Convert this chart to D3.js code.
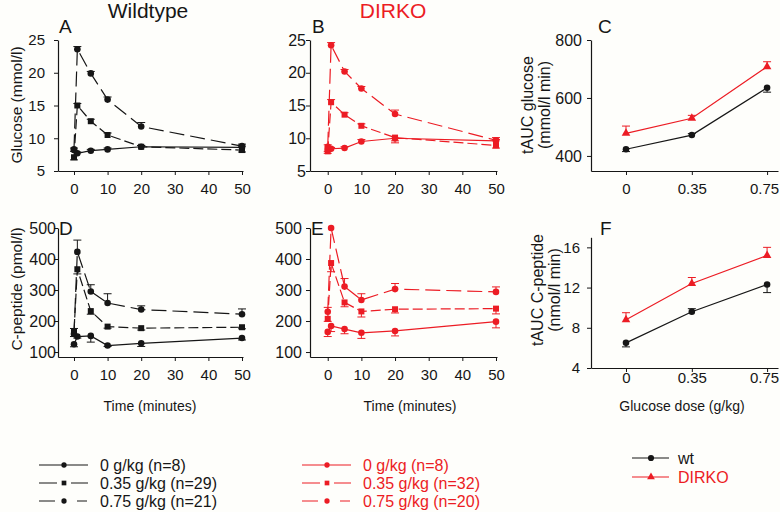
<!DOCTYPE html>
<html><head><meta charset="utf-8">
<script src="https://cdn.jsdelivr.net/npm/d3@7"></script>
<style>
body{margin:0;background:#fefefb;}
svg{display:block;font-family:"Liberation Sans",Arial,sans-serif;}
</style></head><body>
<svg id="c" width="780" height="512"></svg>
<script>
// ---------------- data ----------------
const times = [0, 1, 5, 10, 20, 50];
const timeTicks = [0, 10, 20, 30, 40, 50];
const doses = [0, 0.35, 0.75];
const doseTickLabels = ["0", "0.35", "0.75"];
const glucoseTicks = [5, 10, 15, 20, 25];
const cpepTicks = [100, 200, 300, 400, 500];
const aucGlucoseTicks = [400, 600, 800];
const aucCpepTicks = [4, 8, 12, 16];

// Panel A: wildtype glucose (mmol/l)
const wtGlucose0   = [8.2, 7.7, 8.1, 8.3, 8.7, 8.6];
const wtGlucose035 = [7.1, 15.0, 12.6, 10.5, 8.7, 8.2];
const wtGlucose075 = [8.3, 23.6, 19.9, 15.9, 11.8, 8.8];
const wtGlucoseErr0   = [0.3, 0.2, 0.2, 0.2, 0.2, 0.2];
const wtGlucoseErr035 = [-0.4, 0.3, 0.3, 0.3, 0.2, -0.3];
const wtGlucoseErr075 = [-0.3, 0.4, 0.3, 0.4, 0.6, 0.3];

// Panel B: DIRKO glucose (mmol/l)
const koGlucose0   = [8.3, 8.4, 8.5, 9.5, 10.0, 9.6];
const koGlucose035 = [8.0, 15.5, 13.6, 11.9, 10.1, 8.9];
const koGlucose075 = [8.7, 24.2, 20.2, 17.6, 13.7, 9.7];
const koGlucoseErr0   = [-0.3, 0.2, 0.2, 0.3, -0.7, 0.2];
const koGlucoseErr035 = [-0.3, 0.4, 0.3, 0.3, -0.5, -0.4];
const koGlucoseErr075 = [0.3, 0.4, 0.3, 0.3, 0.6, 0.4];

// Panel D: wildtype C-peptide (pmol/l)
const wtCpep0   = [125, 150, 152, 121, 128, 145];
const wtCpep035 = [166, 367, 232, 182, 177, 180];
const wtCpep075 = [158, 423, 295, 258, 237, 222];
const wtCpepErr0   = [-8, -5, -20, -3, -10, -6];
const wtCpepErr035 = [10, -15, -10, -5, -6, -5];
const wtCpepErr075 = [-8, 38, 22, 30, 12, 17];

// Panel E: DIRKO C-peptide (pmol/l)
const koCpep0   = [165, 184, 174, 162, 168, 198];
const koCpep035 = [207, 387, 260, 231, 238, 240];
const koCpep075 = [230, 500, 311, 268, 303, 294];
const koCpepErr0   = [-15, -18, -15, -18, -16, -20];
const koCpepErr035 = [-8, -28, -14, -18, -12, -17];
const koCpepErr075 = [14, 0, 26, 20, 18, 16];

// Panel C: tAUC glucose (mmol/l min)
const aucGlucoseWt = [423, 472, 635];
const aucGlucoseKo = [478, 530, 708];
const aucGlucoseWtErr = [-8, 5, -15];
const aucGlucoseKoErr = [25, 10, 17];

// Panel F: tAUC C-peptide (nmol/l min)
const aucCpepWt = [6.5, 9.6, 12.3];
const aucCpepKo = [8.8, 12.4, 15.2];
const aucCpepWtErr = [-0.4, 0.3, -0.8];
const aucCpepKoErr = [0.7, 0.6, 0.8];

const legendDoseLabelsWt = ["0 g/kg (n=8)", "0.35 g/kg (n=29)", "0.75 g/kg (n=21)"];
const legendDoseLabelsKo = ["0 g/kg (n=8)", "0.35 g/kg (n=32)", "0.75 g/kg (n=20)"];
const legendGroupLabels = ["wt", "DIRKO"];

// ---------------- drawing ----------------
const BLACK = "#161616", RED = "#ec1c24", BG = "#fefefb";
const svg = d3.select("#c");
svg.append("rect").attr("width", 780).attr("height", 512).attr("fill", BG);

function panel(cfg) {
  const g = svg.append("g");
  const x = d3.scaleLinear().domain(cfg.xd).range(cfg.xr);
  const y = d3.scaleLinear().domain(cfg.yd).range(cfg.yr);
  const ya = d3.axisLeft(y).tickValues(cfg.yt).tickSizeInner(4).tickSizeOuter(0).tickPadding(cfg.yp);
  const yg = g.append("g").attr("transform", `translate(${cfg.xr[0]},0)`).call(ya);
  yg.selectAll("text").style("font-size", cfg.yfs + "px").attr("fill", BLACK);
  const xa = d3.axisBottom(x).tickValues(cfg.xt).tickSizeInner(4).tickSizeOuter(0).tickPadding(cfg.xp);
  if (cfg.xf) xa.tickFormat(cfg.xf);
  const xg = g.append("g").attr("transform", `translate(0,${cfg.yr[0]})`).call(xa);
  xg.selectAll("text").style("font-size", "15px").attr("fill", BLACK);
  if (cfg.shiftLast) xg.selectAll(".tick:last-of-type text").attr("dx", -3);
  [yg, xg].forEach(a => {
    a.select(".domain").attr("stroke", BLACK).attr("stroke-width", 1.2);
    a.selectAll(".tick line").attr("stroke", BLACK).attr("stroke-width", 1);
    a.attr("font-family", null);
  });
  return { x, y, g };
}

function series(p, xs, vals, errs, color, dash, shape, size) {
  const pts = xs.map((t, i) => ({ t, v: vals[i], e: errs[i] }));
  const line = d3.line().x(d => p.x(d.t)).y(d => p.y(d.v));
  p.g.append("path").datum(pts).attr("d", line).attr("fill", "none")
    .attr("stroke", color).attr("stroke-width", 1.2).attr("stroke-dasharray", dash);
  const eb = p.g.append("g").attr("stroke", color).attr("stroke-width", 1);
  pts.filter(d => d.e !== 0).forEach(d => {
    const cx = p.x(d.t), y0 = p.y(d.v), y1 = p.y(d.v + d.e);
    eb.append("line").attr("x1", cx).attr("x2", cx).attr("y1", y0).attr("y2", y1);
    eb.append("line").attr("x1", cx - 4).attr("x2", cx + 4).attr("y1", y1).attr("y2", y1);
  });
  p.g.append("g").selectAll("path").data(pts).join("path")
    .attr("d", d3.symbol().type(shape).size(size))
    .attr("transform", d => `translate(${p.x(d.t)},${p.y(d.v)})`)
    .attr("fill", color);
}

function text(x, y, s, opts = {}) {
  const t = svg.append("text").attr("x", x).attr("y", y).text(s)
    .attr("fill", opts.fill || BLACK).style("font-size", (opts.fs || 15) + "px")
    .attr("text-anchor", opts.anchor || "start");
  if (opts.rot) t.attr("transform", `rotate(-90,${x},${y})`).attr("dy", "0.35em");
  return t;
}

const DASH0 = null, DASH035 = "10,4", DASH075 = "15,6";
const CIRC = d3.symbolCircle, SQ = d3.symbolSquare, TRI = d3.symbolTriangle;

// Panel A
const pA = panel({ xd: [-4.76, 50.3], xr: [58, 243], yd: [5, 25], yr: [171, 40], yt: glucoseTicks, yp: 9, yfs: 15, xt: timeTicks, xp: 8 });
series(pA, times, wtGlucose0, wtGlucoseErr0, BLACK, DASH0, CIRC, 34);
series(pA, times, wtGlucose035, wtGlucoseErr035, BLACK, DASH035, SQ, 36);
series(pA, times, wtGlucose075, wtGlucoseErr075, BLACK, DASH075, CIRC, 34);

// Panel B
const pB = panel({ xd: [-5.27, 50.3], xr: [310, 497], yd: [5, 25], yr: [171, 40], yt: glucoseTicks, yp: 0, yfs: 16, xt: timeTicks, xp: 8 });
series(pB, times, koGlucose0, koGlucoseErr0, RED, DASH0, CIRC, 34);
series(pB, times, koGlucose035, koGlucoseErr035, RED, DASH035, SQ, 36);
series(pB, times, koGlucose075, koGlucoseErr075, RED, DASH075, CIRC, 34);

// Panel C
const pC = panel({ xd: [-0.186, 0.808], xr: [591, 778], yd: [348, 800], yr: [171, 40], yt: aucGlucoseTicks, yp: 5, yfs: 16, xt: doses, xf: (d, i) => doseTickLabels[i], xp: 8, shiftLast: true });
series(pC, doses, aucGlucoseWt, aucGlucoseWtErr, BLACK, DASH0, CIRC, 34);
series(pC, doses, aucGlucoseKo, aucGlucoseKoErr, RED, DASH0, TRI, 32);

// Panel D
const pD = panel({ xd: [-4.76, 50.3], xr: [58, 243], yd: [84, 500], yr: [357, 228], yt: cpepTicks, yp: -2, yfs: 16, xt: timeTicks, xp: 8 });
series(pD, times, wtCpep0, wtCpepErr0, BLACK, DASH0, CIRC, 34);
series(pD, times, wtCpep035, wtCpepErr035, BLACK, DASH035, SQ, 36);
series(pD, times, wtCpep075, wtCpepErr075, BLACK, DASH075, CIRC, 34);

// Panel E
const pE = panel({ xd: [-5.27, 50.3], xr: [310, 497], yd: [84, 500], yr: [357, 228], yt: cpepTicks, yp: 4, yfs: 16, xt: timeTicks, xp: 8 });
series(pE, times, koCpep0, koCpepErr0, RED, DASH0, CIRC, 34);
series(pE, times, koCpep035, koCpepErr035, RED, DASH035, SQ, 36);
series(pE, times, koCpep075, koCpepErr075, RED, DASH075, CIRC, 34);

// Panel F
const pF = panel({ xd: [-0.186, 0.808], xr: [591, 778], yd: [4, 17], yr: [368, 237.3], yt: aucCpepTicks, yp: 7, yfs: 15, xt: doses, xf: (d, i) => doseTickLabels[i], xp: 0, shiftLast: true });
series(pF, doses, aucCpepWt, aucCpepWtErr, BLACK, DASH0, CIRC, 34);
series(pF, doses, aucCpepKo, aucCpepKoErr, RED, DASH0, TRI, 32);

// titles & letters
text(148, 18, "Wildtype", { fs: 21, anchor: "middle" });
text(393, 18, "DIRKO", { fs: 21, anchor: "middle", fill: RED });
text(59, 33, "A", { fs: 19 });
text(312, 33, "B", { fs: 19 });
text(598, 33, "C", { fs: 19 });
text(59, 235, "D", { fs: 19 });
text(311, 235, "E", { fs: 19 });
text(600, 235, "F", { fs: 19 });

// axis titles
text(17, 105, "Glucose (mmol/l)", { fs: 15.5, anchor: "middle", rot: true });
text(17, 289, "C-peptide (pmol/l)", { fs: 15.5, anchor: "middle", rot: true });
text(527, 105, "tAUC glucose", { fs: 16, anchor: "middle", rot: true });
text(544, 105, "(mmol/l min)", { fs: 16, anchor: "middle", rot: true });
text(537, 290, "tAUC C-peptide", { fs: 16, anchor: "middle", rot: true });
text(554, 290, "(nmol/l min)", { fs: 16, anchor: "middle", rot: true });
text(150, 411, "Time (minutes)", { fs: 14, anchor: "middle" });
text(410, 411, "Time (minutes)", { fs: 14, anchor: "middle" });
text(682, 411, "Glucose dose (g/kg)", { fs: 14, anchor: "middle" });

// legends
const legDash = [null, "18,14", "16,22,10"];
const legShapes = [CIRC, SQ, CIRC];
const legRowsY = [465, 483, 501];
function legendItem(x1, x2, y, color, dash, shape, size, label, tx, fs) {
  svg.append("line").attr("x1", x1).attr("x2", x2).attr("y1", y).attr("y2", y)
    .attr("stroke", color).attr("stroke-width", 1.2).attr("stroke-dasharray", dash);
  svg.append("path").attr("d", d3.symbol().type(shape).size(size)())
    .attr("transform", `translate(${(x1 + x2) / 2 + 0.5},${y})`).attr("fill", color);
  text(tx, y, label, { fs: fs, fill: color }).attr("dy", "0.35em");
}
legendDoseLabelsWt.forEach((l, i) => legendItem(39, 88, legRowsY[i], BLACK, legDash[i], legShapes[i], 22, l, 100, 16));
legendDoseLabelsKo.forEach((l, i) => legendItem(302, 351, legRowsY[i], RED, legDash[i], legShapes[i], 22, l, 363, 16));
legendItem(632, 669, 458, BLACK, null, CIRC, 30, legendGroupLabels[0], 678, 16);
legendItem(632, 669, 477, RED, null, TRI, 26, legendGroupLabels[1], 678, 16);
</script>
</body></html>
